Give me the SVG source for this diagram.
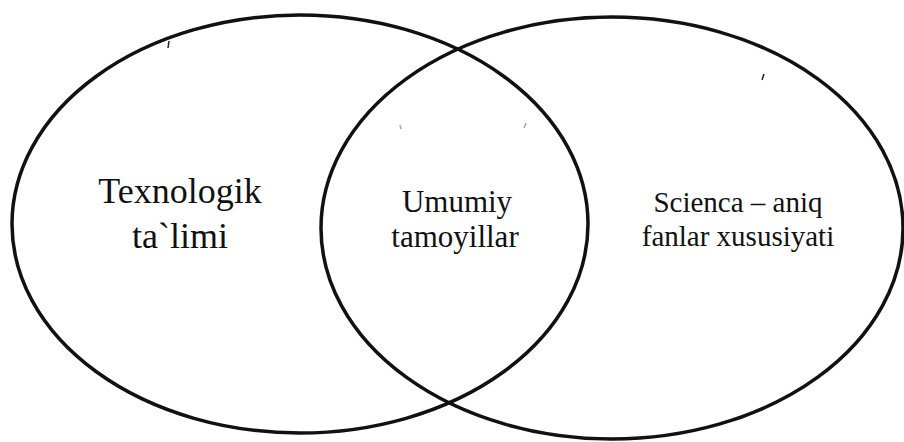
<svg xmlns="http://www.w3.org/2000/svg" width="904" height="442" viewBox="0 0 904 442">
<style>
.ring{fill:none;stroke:#111;stroke-width:3.5}
.lbl{font-family:"Liberation Serif","Times New Roman",serif;fill:#111;text-anchor:middle}
.mark{stroke:#222;stroke-width:1.5;fill:none}
</style>
<rect width="904" height="442" fill="#fff"/>
<g id="left">
<ellipse class="ring" cx="300" cy="224" rx="288" ry="209"/>
<text class="lbl" font-size="36" x="180" y="203">Texnologik</text>
<text class="lbl" font-size="36" x="180" y="248">ta`limi</text>
</g>
<g id="right">
<ellipse class="ring" cx="612" cy="228" rx="291" ry="211"/>
<text class="lbl" font-size="29" x="738" y="212">Scienca – aniq</text>
<text class="lbl" font-size="29" x="738" y="246">fanlar xususiyati</text>
</g>
<g id="middle">
<text class="lbl" font-size="31" x="457" y="212">Umumiy</text>
<text class="lbl" font-size="31" x="455" y="247">tamoyillar</text>
</g>
<g id="marks">
<path class="mark" d="M169 41 L168 48"/>
<path class="mark" d="M764 74 L762 80"/>
<path class="mark" stroke-opacity="0.4" d="M400 125 L401 129"/>
<path class="mark" stroke-opacity="0.4" d="M526 123 L524 128"/>
</g>
</svg>
